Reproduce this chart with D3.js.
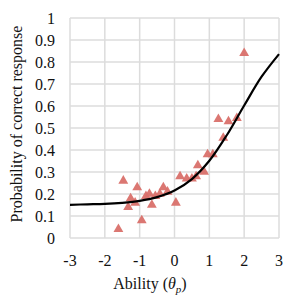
<!DOCTYPE html>
<html>
<head>
<meta charset="utf-8">
<script src="https://cdn.jsdelivr.net/npm/d3@7"></script>
<style>
  html, body { margin: 0; padding: 0; background: #fff; }
  svg { display: block; }
</style>
</head>
<body>
<script>
// observed points (ability, proportion correct)
const abilities = [-1.61, -1.47, -1.33, -1.26, -1.13, -1.07, -0.94, -0.82, -0.72, -0.65,
  -0.55, -0.42, -0.32, -0.2, 0.04, 0.16, 0.35, 0.5, 0.62, 0.67, 0.85, 0.95, 1.1,
  1.26, 1.4, 1.55, 1.79, 2.0];
const observed = [0.04, 0.26, 0.14, 0.18, 0.16, 0.23, 0.08, 0.19, 0.2, 0.15,
  0.19, 0.2, 0.23, 0.21, 0.16, 0.28, 0.27, 0.27, 0.28, 0.33, 0.3, 0.38, 0.38,
  0.54, 0.455, 0.53, 0.545, 0.84];

// model curve
const curveX = [-3, -2.5, -2, -1.5, -1, -0.5, 0, 0.5, 1, 1.5, 2, 2.5, 3];
const curveY = [0.151, 0.153, 0.155, 0.16, 0.169, 0.186, 0.216, 0.268, 0.351, 0.467, 0.602, 0.733, 0.836];

const xTicks = [-3, -2, -1, 0, 1, 2, 3];
const yTicks = [0, 0.1, 0.2, 0.3, 0.4, 0.5, 0.6, 0.7, 0.8, 0.9, 1];

const W = 302, H = 302;
const margin = { top: 18, right: 23, bottom: 64, left: 70 };

const svg = d3.select("body").append("svg")
  .attr("width", W).attr("height", H)
  .attr("font-family", "'Liberation Serif', 'DejaVu Serif', serif")
  .style("font-family", "'Liberation Serif', 'DejaVu Serif', serif");

const x = d3.scaleLinear().domain([-3, 3]).range([margin.left, W - margin.right]);
const y = d3.scaleLinear().domain([0, 1]).range([H - margin.bottom, margin.top]);

// grid
const grid = svg.append("g").attr("stroke", "#dcdcdc").attr("stroke-width", 1.5);
grid.selectAll(".vx").data(xTicks).enter().append("line")
  .attr("x1", d => x(d)).attr("x2", d => x(d))
  .attr("y1", y(0)).attr("y2", y(1));
grid.selectAll(".hy").data(yTicks).enter().append("line")
  .attr("x1", x(-3)).attr("x2", x(3))
  .attr("y1", d => y(d)).attr("y2", d => y(d));

// tick labels
svg.append("g").selectAll("text").data(yTicks).enter().append("text")
  .attr("x", 55).attr("y", d => y(d))
  .attr("dy", "0.35em")
  .attr("text-anchor", "end")
  .attr("font-size", 16)
  .attr("fill", "#111")
  .text(d => d3.format("~g")(d));

svg.append("g").selectAll("text").data(xTicks).enter().append("text")
  .attr("x", d => x(d)).attr("y", 266)
  .attr("text-anchor", "middle")
  .attr("font-size", 16)
  .attr("fill", "#111")
  .text(d => d);

// points
svg.append("g").selectAll("path").data(abilities).enter().append("path")
  .attr("d", d3.symbol().type(d3.symbolTriangle).size(42))
  .attr("transform", (d, i) => `translate(${x(d)},${y(observed[i])})`)
  .attr("fill", "#d9706a")
  .attr("fill-opacity", 0.95);

// curve
const line = d3.line()
  .x(d => x(d))
  .y((d, i) => y(curveY[i]))
  .curve(d3.curveCatmullRom);
svg.append("path")
  .datum(curveX)
  .attr("d", line)
  .attr("fill", "none")
  .attr("stroke", "#000")
  .attr("stroke-width", 2.2);

// axis titles
svg.append("text")
  .attr("transform", `translate(22, ${(y(0) + y(1)) / 2 - 4}) rotate(-90)`)
  .attr("text-anchor", "middle")
  .attr("font-size", 16)
  .attr("fill", "#111")
  .text("Probability of correct response");

const xl = svg.append("text")
  .attr("x", 150).attr("y", 289)
  .attr("text-anchor", "middle")
  .attr("font-size", 16)
  .attr("fill", "#111");
xl.append("tspan").text("Ability (");
xl.append("tspan").attr("font-style", "italic").text("θ");
xl.append("tspan").attr("font-style", "italic").attr("font-size", 11).attr("dy", 4).text("p");
xl.append("tspan").attr("dy", -4).text(")");
</script>
</body>
</html>
